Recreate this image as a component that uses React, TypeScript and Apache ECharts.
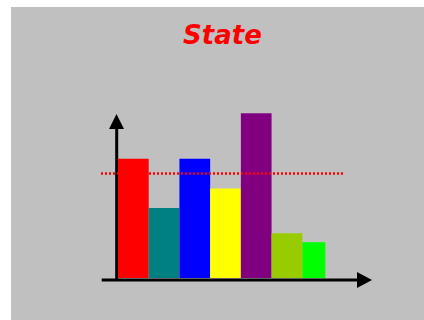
import React, { useEffect, useRef } from "react";
import * as echarts from "echarts";

const categories = ["A", "B", "C", "D", "E", "F", "G"];
const values = [8, 4.7, 8, 6, 11.05, 3, 2.4];
const colors = ["#ff0000", "#008080", "#0000ff", "#ffff00", "#800080", "#99cc00", "#00ff00"];
const narrowIndex = 6;
const refValue = 7;
const titleText = "State";

export default function App() {
  const ref = useRef<HTMLDivElement>(null);
  useEffect(() => {
    if (!ref.current) return;
    const chart = echarts.init(ref.current, undefined, { renderer: "svg" });
    const mainData = values.map((v, i) =>
      i === narrowIndex ? "-" : { value: v, itemStyle: { color: colors[i] } }
    );
    const narrowData = values.map((v, i) =>
      i === narrowIndex ? { value: v, itemStyle: { color: colors[i] } } : "-"
    );
    chart.setOption({
      animation: false,
      backgroundColor: "#c0c0c0",
      title: {
        text: titleText,
        left: 167,
        top: 10,
        textStyle: {
          color: "#ff0000",
          fontSize: 26,
          fontWeight: "bold",
          fontStyle: "italic",
          fontFamily: "DejaVu Sans",
        },
      },
      grid: { left: 107, width: 215, bottom: 42, height: 179 },
      xAxis: {
        type: "category",
        data: categories,
        show: false,
      },
      yAxis: { type: "value", min: 0, max: 12, show: false },
      series: [
        {
          type: "bar",
          data: narrowData,
          barWidth: "75%",
          barGap: "-100%",
          barCategoryGap: "0%",
        },
        {
          type: "bar",
          data: mainData,
          barWidth: "100%",
          barGap: "-100%",
          barCategoryGap: "0%",
          markLine: {
            silent: true,
            symbol: "none",
            label: { show: false },
            lineStyle: { color: "#ff0000", width: 2.5, type: [2, 2] },
            data: [[{ x: 90, yAxis: refValue }, { x: 332, yAxis: refValue }]],
          },
        },
      ],
      graphic: [
        {
          type: "line",
          shape: { x1: 105.7, y1: 273, x2: 105.7, y2: 120 },
          style: { stroke: "#000", lineWidth: 3 },
        },
        {
          type: "polygon",
          shape: { points: [[98, 122], [113, 122], [105.5, 107]] },
          style: { fill: "#000" },
        },
        {
          type: "line",
          shape: { x1: 90.7, y1: 273, x2: 348, y2: 273 },
          style: { stroke: "#000", lineWidth: 3 },
        },
        {
          type: "polygon",
          shape: { points: [[346, 265], [346, 281], [361, 273]] },
          style: { fill: "#000" },
        },
      ],
    });
    return () => chart.dispose();
  }, []);
  return (
    <div
      ref={ref}
      style={{ position: "absolute", left: 11, top: 7, width: 413, height: 313 }}
    />
  );
}
